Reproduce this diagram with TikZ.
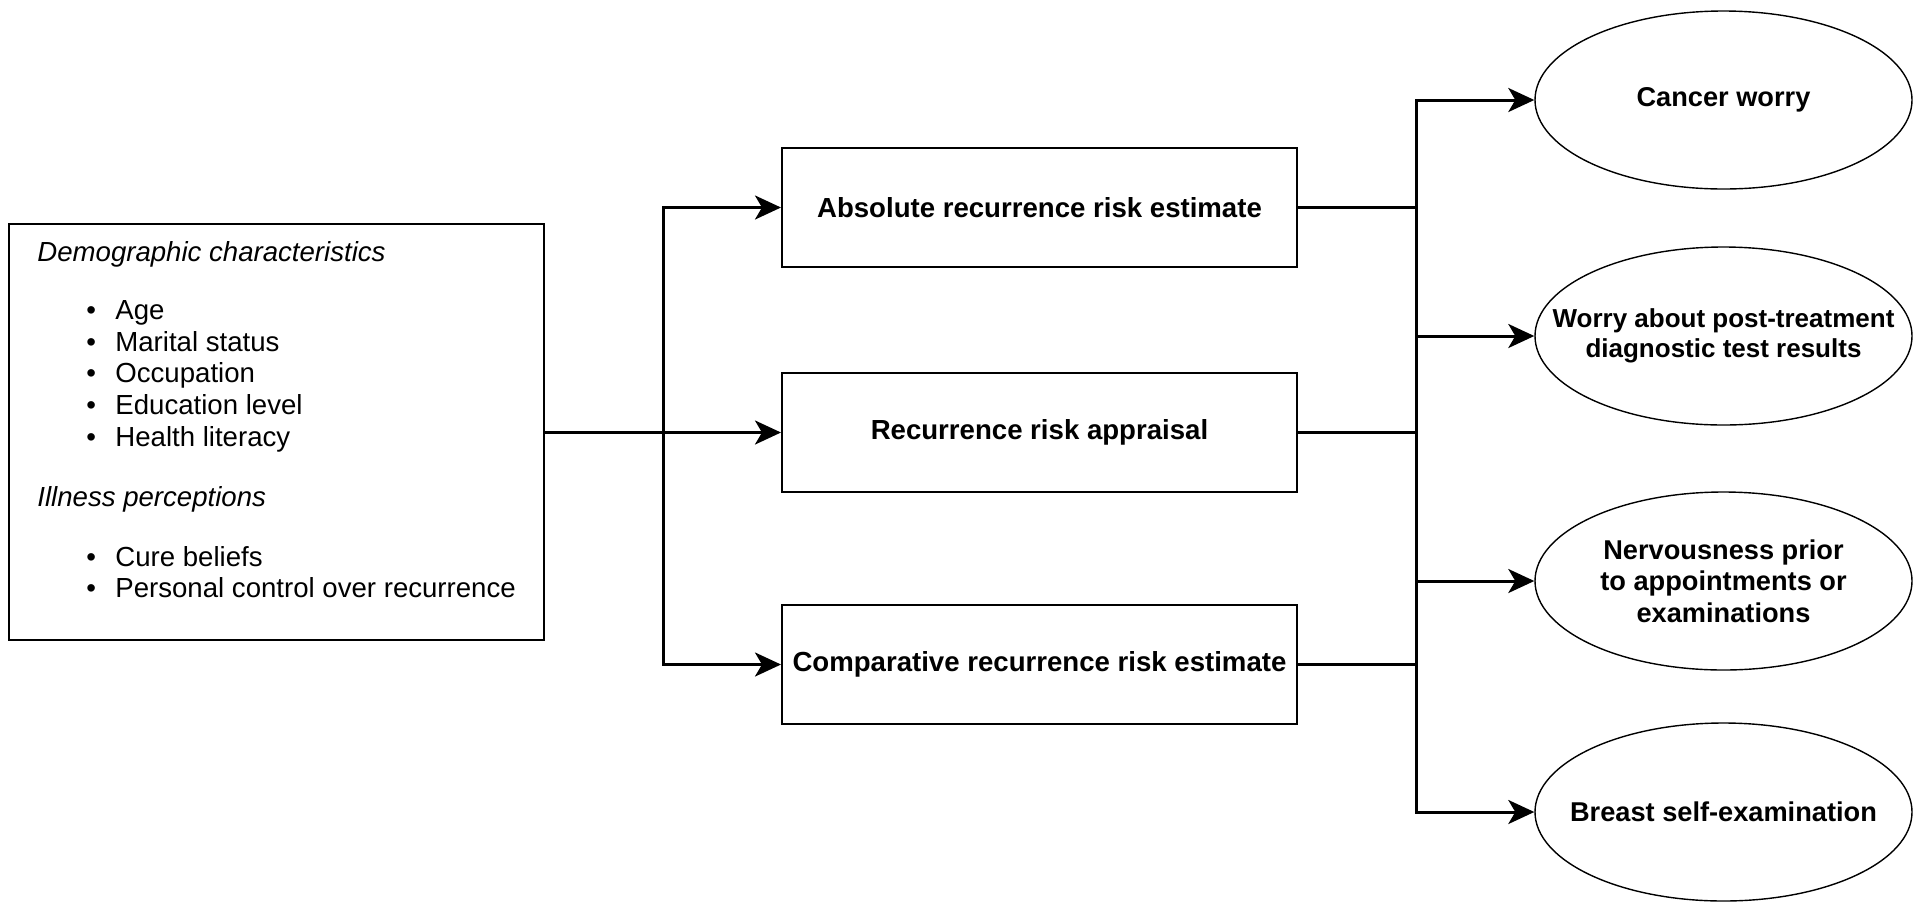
\documentclass[tikz,border=0pt]{standalone}
\usepackage{fontspec}
\setmainfont{Liberation Sans}
\usetikzlibrary{arrows.meta,shapes.geometric,calc}
\tikzset{
  midbox/.style={draw, line width=1pt, minimum width=257.5pt, minimum height=59.5pt, inner sep=0pt, align=center, font=\fontsize{13.8}{16}\selectfont\bfseries},
  leftbox/.style={draw, line width=1pt, minimum width=267.5pt, minimum height=208pt, inner sep=0pt},
  outell/.style={draw, ellipse, line width=0.7pt, minimum width=188.5pt, minimum height=89pt, inner sep=0pt},
  elltext/.style={inner sep=0pt, align=center, font=\fontsize{13.6}{15.85}\selectfont\bfseries},
  conn/.style={line width=1.5pt, -{Stealth[length=13pt,width=12pt,inset=3.5pt]}},
  plain/.style={line width=1.5pt, line cap=rect},
  txt/.style={anchor=base west, inner sep=0pt, font=\fontsize{13.8}{16}\selectfont},
}
\begin{document}
\begin{tikzpicture}[x=0.5pt,y=-0.5pt]
\useasboundingbox (0,0) rectangle (1917,901);
\fill[white] (0,0) rectangle (1917,901);

% left box
\node[leftbox] (demo) at (276.5,432) {};
\node[txt, font=\fontsize{13.8}{16}\selectfont\itshape] (h1) at (37,261) {Demographic characteristics};
\node[txt] (b1) at (86,319) {\textbullet};
\node[txt] (i1) at (115,319) {Age};
\node[txt] (b2) at (86,351) {\textbullet};
\node[txt] (i2) at (115,351) {Marital status};
\node[txt] (b3) at (86,382) {\textbullet};
\node[txt] (i3) at (115,382) {Occupation};
\node[txt] (b4) at (86,414) {\textbullet};
\node[txt] (i4) at (115,414) {Education level};
\node[txt] (b5) at (86,446) {\textbullet};
\node[txt] (i5) at (115,446) {Health literacy};
\node[txt, font=\fontsize{13.8}{16}\selectfont\itshape] (h2) at (37,506) {Illness perceptions};
\node[txt] (b6) at (86,566) {\textbullet};
\node[txt] (i6) at (115,566) {Cure beliefs};
\node[txt] (b7) at (86,597) {\textbullet};
\node[txt] (i7) at (115,597) {Personal control over recurrence};

% middle boxes
\node[midbox] (abs) at (1039.5,207.5) {Absolute recurrence risk estimate};
\node[midbox] (mid) at (1039.5,432.5) {Recurrence risk appraisal};
\node[midbox] (comp) at (1039.5,664.5) {Comparative recurrence risk estimate};

% ellipses
\node[outell] (cw) at (1723.5,100) {};
\node[elltext] (cwt) at (cw.center) {Cancer worry};
\node[outell] (wr) at (1723.5,336) {};
\node[elltext, font=\fontsize{13}{15}\selectfont\bfseries] (wrt) at (wr.center) {Worry about post-treatment\\diagnostic test results};
\node[outell] (nv) at (1723.5,581) {};
\node[elltext] (nvt) at (nv.center) {Nervousness prior\\to appointments or\\examinations};
\node[outell] (bse) at (1723.5,812) {};
\node[elltext] (bset) at (bse.center) {Breast self-examination};

% left connectors
\coordinate (lsplit) at (663,432.5);
\draw[conn] (demo.east |- mid.west) -- (mid.west);
\draw[conn] (lsplit) |- (abs.west);
\draw[conn] (lsplit) |- (comp.west);

% right connectors
\coordinate (rsplit) at (1416,432.5);
\draw[plain] (abs.east) -- (abs.east -| rsplit);
\draw[plain] (mid.east) -- (mid.east -| rsplit);
\draw[plain] (comp.east) -- (comp.east -| rsplit);
\draw[plain] (rsplit |- cw.west) -- (rsplit |- bse.west);
\draw[conn] (rsplit |- cw.west) -- (cw.west);
\draw[conn] (rsplit |- wr.west) -- (wr.west);
\draw[conn] (rsplit |- nv.west) -- (nv.west);
\draw[conn] (rsplit |- bse.west) -- (bse.west);
\end{tikzpicture}
\end{document}
